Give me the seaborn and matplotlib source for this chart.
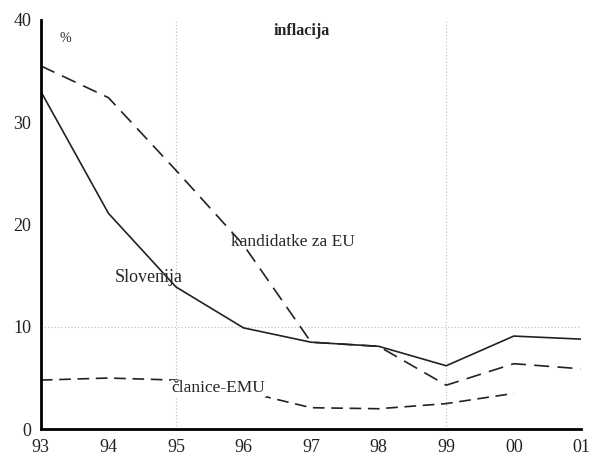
import matplotlib
matplotlib.use("Agg")
import matplotlib.pyplot as plt
import seaborn as sns
import pandas as pd

years = ["93", "94", "95", "96", "97", "98", "99", "00", "01"]
slovenija = [33.0, 21.1, 13.9, 9.9, 8.5, 8.1, 6.2, 9.1, 8.8]
kandidatke = [35.5, 32.4, 25.3, 18.0, 8.5, 8.1, 4.3, 6.4, 5.9]
emu = [4.8, 5.0, 4.8, 3.7, 2.1, 2.0, 2.5, 3.5, None]

sns.set_style("white")
plt.rcParams['font.family'] = ['Liberation Serif', 'DejaVu Serif']

x = list(range(len(years)))
df = pd.DataFrame({"x": x, "Slovenija": slovenija, "kandidatke": kandidatke, "emu": emu})

fig = plt.figure(figsize=(5.92, 4.62), dpi=100)
ax = fig.add_axes([0.069, 0.071, 0.913, 0.886])

for xv in [2, 6]:
    ax.axvline(xv, color="#bbbbbb", lw=0.8, ls=(0, (1, 2)), zorder=0)
ax.axhline(10, color="#bbbbbb", lw=0.8, ls=(0, (1, 2)), zorder=0)

sns.lineplot(data=df, x="x", y="Slovenija", ax=ax, color="#222222", lw=1.2)
sns.lineplot(data=df, x="x", y="kandidatke", ax=ax, color="#222222", lw=1.2)
ax.lines[-1].set_dashes((9, 5))
sns.lineplot(data=df.dropna(), x="x", y="emu", ax=ax, color="#222222", lw=1.2)
ax.lines[-1].set_dashes((7, 4))

ax.set_xlim(0, 8)
ax.set_ylim(0, 40)
ax.set_xticks(x)
ax.set_xticklabels(years)
ax.set_yticks([0, 10, 20, 30, 40])
ax.set_xlabel("")
ax.set_ylabel("")
for s in ["top", "right"]:
    ax.spines[s].set_visible(False)
for s in ["left", "bottom"]:
    ax.spines[s].set_linewidth(2.0)
    ax.spines[s].set_color("black")
ax.tick_params(axis="both", direction="out", length=5, width=1, colors="#222222", labelsize=13, pad=2)

ax.text(0.28, 38.2, "%", fontsize=10, va="center")
ax.text(3.44, 38.9, "inflacija", fontsize=11.5, fontweight="bold", va="center")
ax.text(1.09, 14.8, "Slovenija", fontsize=13, va="center")
ax.text(2.82, 18.3, "kandidatke za EU", fontsize=12.5, va="center")
ax.text(1.93, 4.0, "članice-EMU", fontsize=12.5, va="center",
        bbox=dict(facecolor="white", edgecolor="none", pad=0.5), zorder=5)

fig.savefig("out.png", dpi=100)
